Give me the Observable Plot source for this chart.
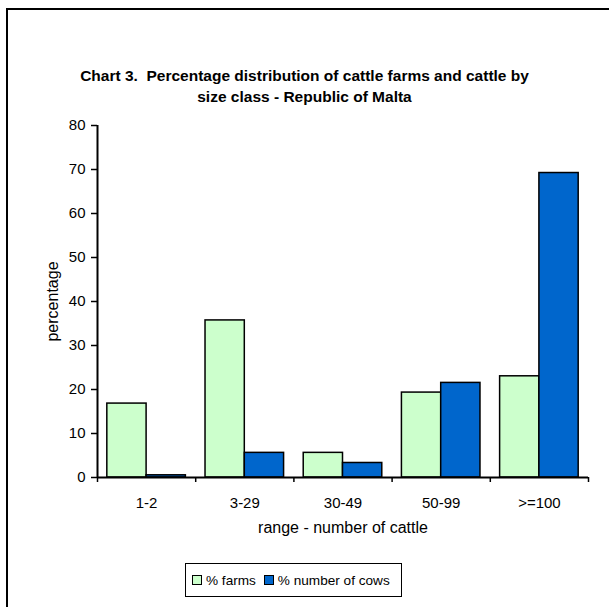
<!DOCTYPE html>
<html>
<head>
<meta charset="utf-8">
<script src="https://cdn.jsdelivr.net/npm/d3@7"></script>
<script src="https://cdn.jsdelivr.net/npm/@observablehq/plot@0.6"></script>
<style>
  html, body { margin: 0; padding: 0; background: #fff; }
  #wrap { position: relative; width: 609px; height: 607px; overflow: hidden; font-family: "Liberation Sans", Arial, sans-serif; background: #fff; }
  #frame { position: absolute; left: 6px; top: 8px; width: 800px; height: 800px; border: 2px solid #000; box-sizing: border-box; z-index: 5; pointer-events: none; }
  #title { position: absolute; left: 0; width: 609px; top: 65px; text-align: center; font-weight: bold; font-size: 15.5px; line-height: 21px; white-space: pre; color: #000; }
  #chart { position: absolute; left: 0; top: 110px; }
  #legend { position: absolute; left: 185px; top: 563px; width: 217px; height: 34px; border: 1.5px solid #000; box-sizing: border-box; display: flex; align-items: center; padding-left: 6px; font-size: 13.6px; color: #000; }
  .sw { display: inline-block; width: 8px; height: 8px; border: 1.5px solid #000; margin-right: 4px; }
  .item { display: flex; align-items: center; margin-right: 8px; }
</style>
</head>
<body>
<div id="wrap">
  <div id="frame"></div>
  <div id="title">Chart 3.  Percentage distribution of cattle farms and cattle by
size class - Republic of Malta</div>
  <div id="chart"></div>
  <div id="legend"></div>
</div>
<script>
const categories = ["1-2", "3-29", "30-49", "50-99", ">=100"];
const farms = [16.8, 35.7, 5.6, 19.3, 23.0];
const cows = [0.5, 5.6, 3.3, 21.5, 69.2];
const seriesNames = ["% farms", "% number of cows"];
const seriesColors = ["#CCFFCC", "#0066CC"];
const yTicks = [0, 10, 20, 30, 40, 50, 60, 70, 80];

const rows = [];
categories.forEach((c, i) => {
  rows.push({cat: c, i, series: seriesNames[0], value: farms[i], x1: i + 0.1, x2: i + 0.5});
  rows.push({cat: c, i, series: seriesNames[1], value: cows[i], x1: i + 0.5, x2: i + 0.9});
});

const font = "'Liberation Sans', Arial, sans-serif";

const chart = Plot.plot({
  width: 609,
  height: 440,
  marginLeft: 97,
  marginRight: 21,
  marginTop: 15,
  marginBottom: 73,
  style: {fontFamily: font, fontSize: "15px", color: "#000", background: "transparent"},
  x: {type: "linear", domain: [0, categories.length]},
  y: {domain: [0, 80]},
  color: {domain: seriesNames, range: seriesColors},
  marks: [
    Plot.rectY(rows, {x1: "x1", x2: "x2", y1: 0, y2: "value", fill: "series", stroke: "#000", strokeWidth: 1.5}),
    Plot.ruleY([0], {stroke: "#000", strokeWidth: 2}),
    Plot.ruleX([0], {stroke: "#000", strokeWidth: 2}),
    Plot.axisY({ticks: yTicks, tickSize: 6, tickPadding: 6, label: null, stroke: "#000", strokeWidth: 1.5, fontSize: 15}),
    Plot.axisX({ticks: d3.range(0, categories.length + 1), tickSize: 5, tickFormat: () => "", label: null, strokeWidth: 1.5}),
    Plot.axisX({ticks: categories.map((c, i) => i + 0.5), tickSize: 0, tickPadding: 20, tickFormat: v => categories[Math.floor(v)], label: null, fontSize: 15}),
    Plot.text(["range - number of cattle"], {frameAnchor: "bottom", dy: 55, fontSize: 16, fill: "#000"}),
    Plot.text(["percentage"], {frameAnchor: "left", dx: -45, rotate: -90, textAnchor: "middle", fontSize: 16, fill: "#000"})
  ]
});
document.getElementById("chart").appendChild(chart);

const legend = document.getElementById("legend");
seriesNames.forEach((name, k) => {
  const item = document.createElement("span");
  item.className = "item";
  const sw = document.createElement("span");
  sw.className = "sw";
  sw.style.background = seriesColors[k];
  item.appendChild(sw);
  item.appendChild(document.createTextNode(name));
  legend.appendChild(item);
});
</script>
</body>
</html>
